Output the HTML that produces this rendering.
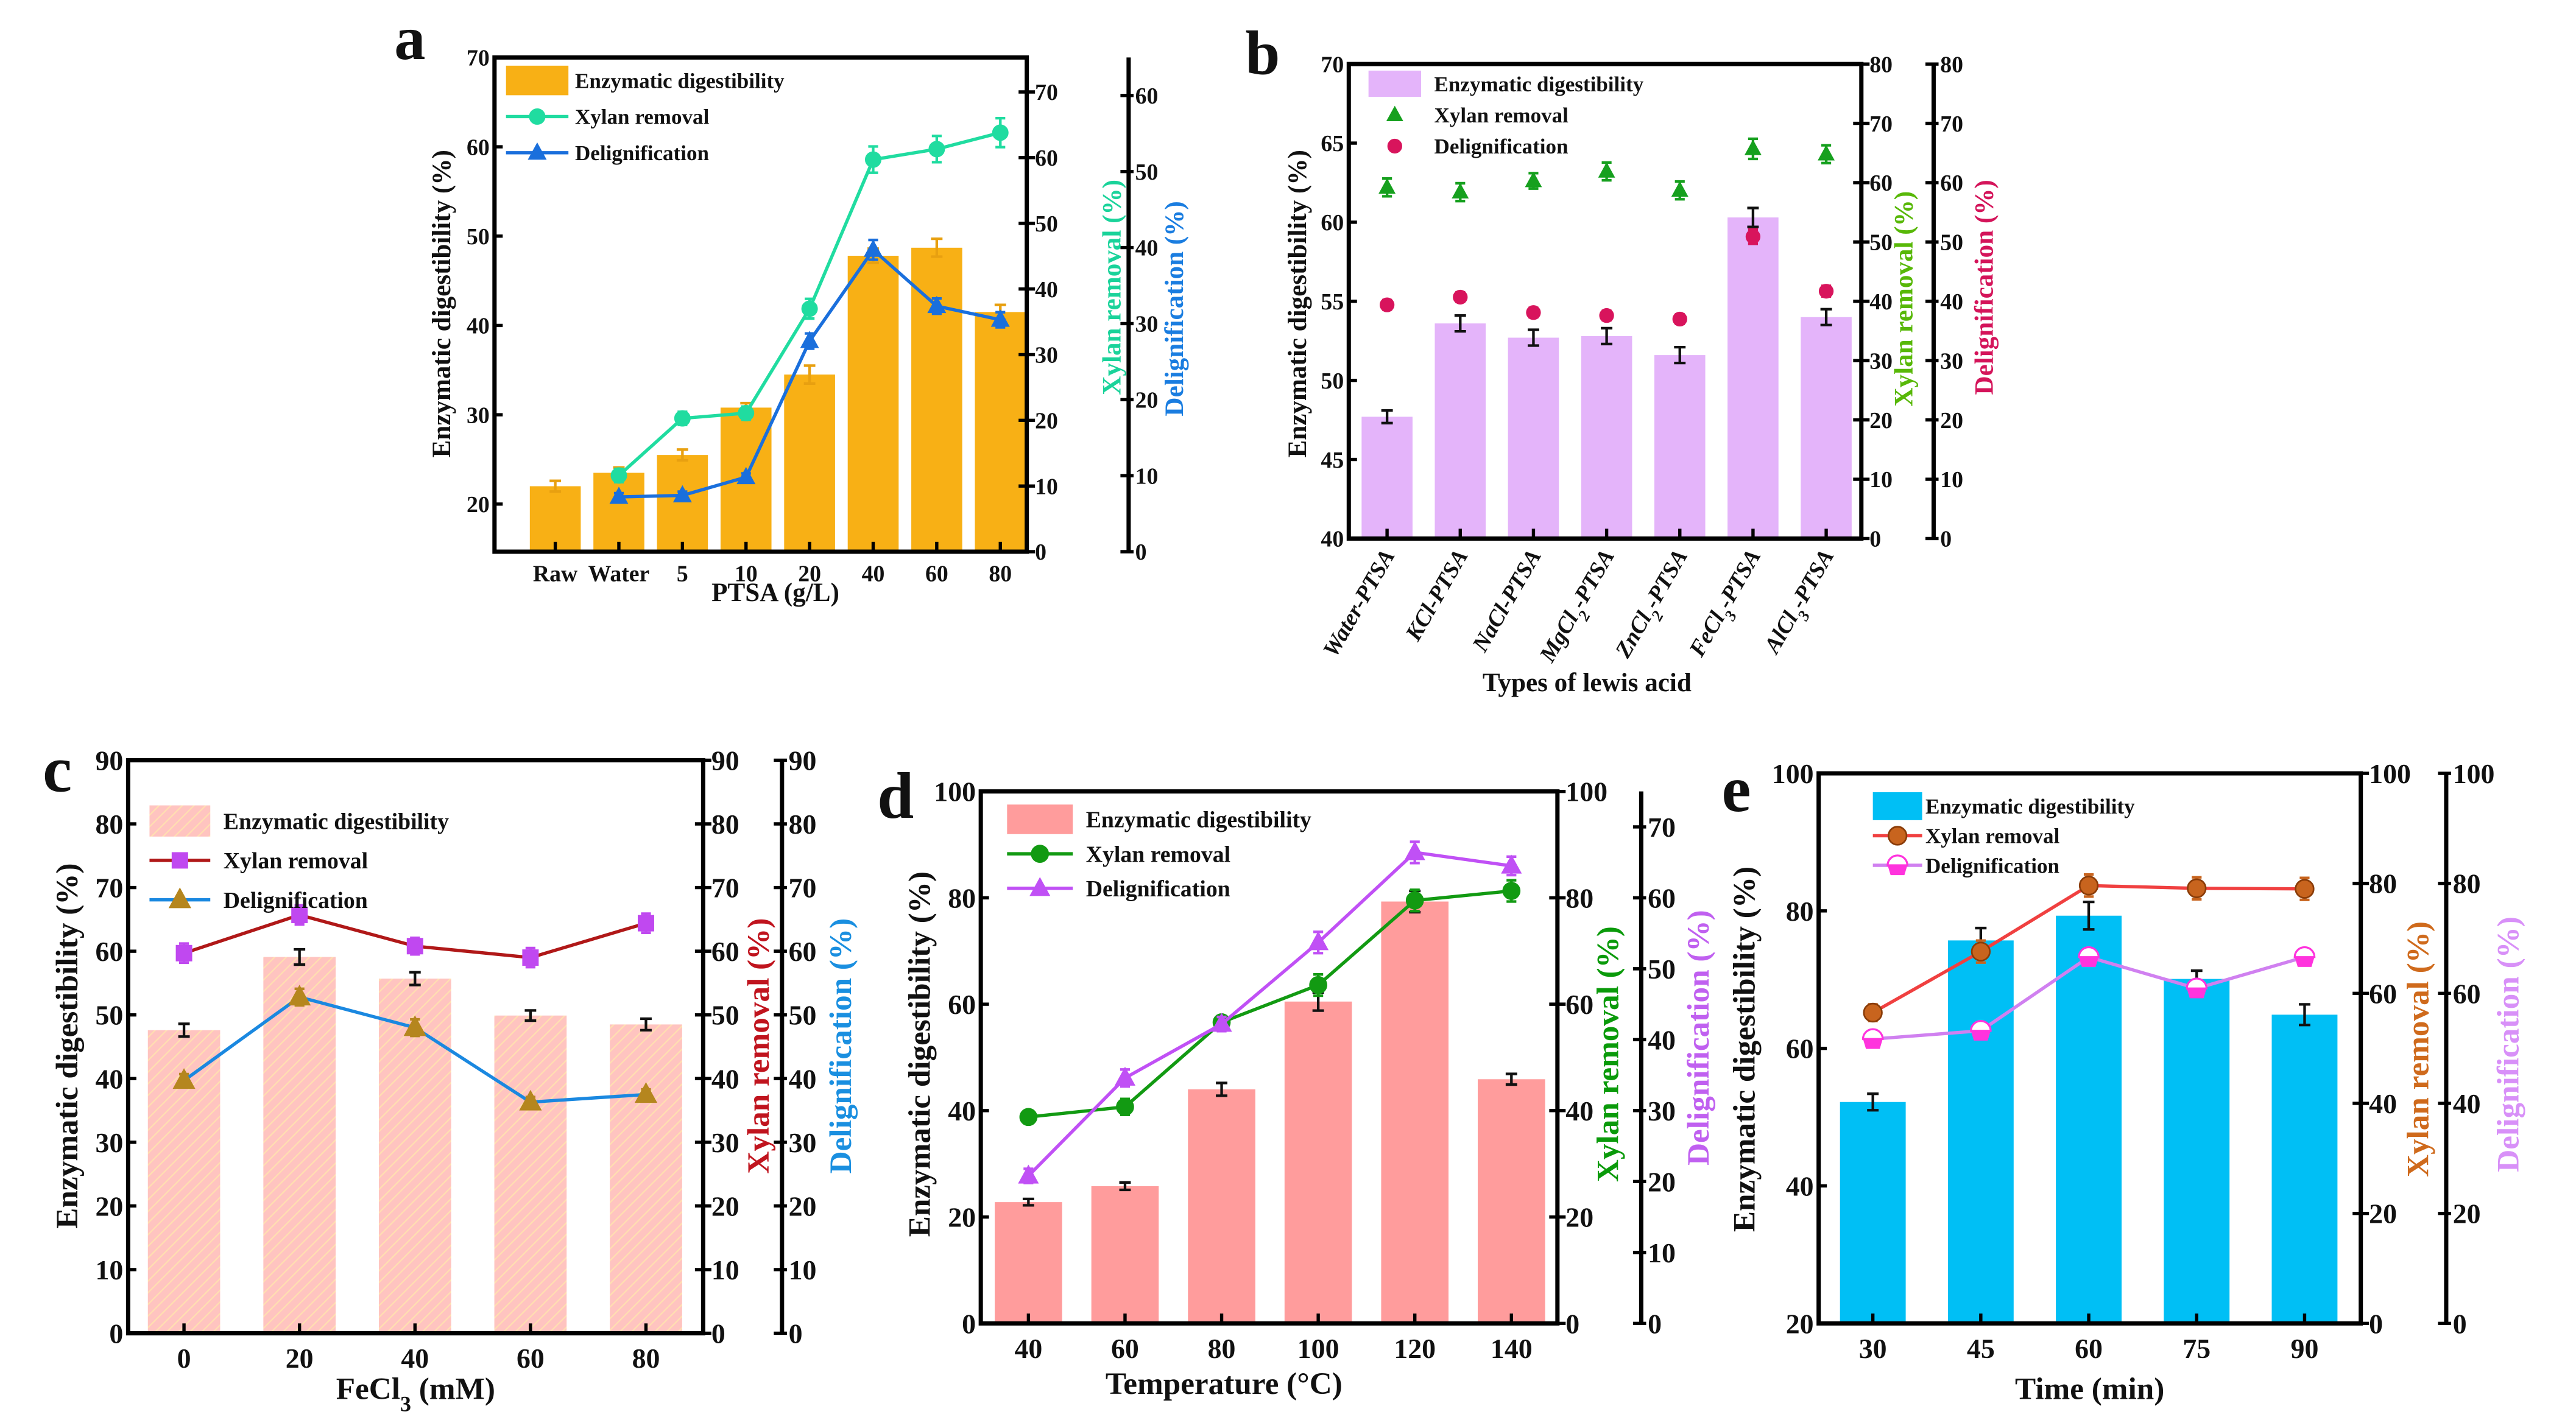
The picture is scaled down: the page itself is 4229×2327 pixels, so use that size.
<!DOCTYPE html>
<html><head><meta charset="utf-8"><style>
html,body{margin:0;padding:0;background:#fff;}
svg{display:block;}
text{font-family:"Liberation Serif",serif;font-weight:bold;fill:#111;}
</style></head><body>
<svg id="fig" width="4229" height="2327" viewBox="0 0 1568 863" preserveAspectRatio="none" xmlns="http://www.w3.org/2000/svg">
<defs>
<pattern id="hatch" patternUnits="userSpaceOnUse" width="5" height="5" patternTransform="rotate(45)">
<rect width="5" height="5" fill="#ffc4c0"/>
<line x1="0" y1="0" x2="0" y2="5" stroke="#ffe0b0" stroke-width="1.6"/>
</pattern>
</defs>
</svg>
<script>
// ---------- Panel a data ----------
const aCategories = ["Raw","Water","5","10","20","40","60","80"];
const aEnzymatic = [22.0,23.5,25.5,30.8,34.5,47.8,48.7,41.5];
const aEnzErr = [0.6,0.6,0.6,0.5,1.0,0.8,1.0,0.8];
const aXylan = [null,11.6,20.3,21.1,37.0,59.7,61.3,63.8];
const aXylErr = [null,1.0,1.0,1.0,1.5,2.0,2.0,2.2];
const aDelig = [null,7.2,7.4,9.8,27.7,39.7,32.3,30.5];
const aDelErr = [null,0.5,0.5,0.5,1.0,1.3,1.0,1.0];
const aLeftTicks = [20,30,40,50,60,70];
const aXylTicks = [0,10,20,30,40,50,60,70];
const aDelTicks = [0,10,20,30,40,50,60];
// ---------- Panel b data ----------
const bCategories = ["Water-PTSA","KCl-PTSA","NaCl-PTSA","MgCl|2|-PTSA","ZnCl|2|-PTSA","FeCl|3|-PTSA","AlCl|3|-PTSA"];
const bEnzymatic = [47.7,53.6,52.7,52.8,51.6,60.3,54.0];
const bEnzErr = [0.4,0.5,0.5,0.5,0.5,0.6,0.5];
const bXylan = [59.2,58.4,60.3,61.9,58.7,65.7,64.8];
const bXylErr = [1.5,1.5,1.3,1.5,1.5,1.7,1.5];
const bDelig = [39.4,40.7,38.1,37.6,37.0,50.9,41.7];
const bDelErr = [0.8,0.8,0.8,0.8,0.8,1.2,0.9];
const bLeftTicks = [40,45,50,55,60,65,70];
const bRightTicks = [0,10,20,30,40,50,60,70,80];
// ---------- Panel c data ----------
const cCategories = ["0","20","40","60","80"];
const cEnzymatic = [47.6,59.1,55.7,49.9,48.5];
const cEnzErr = [1.0,1.2,1.0,0.8,0.9];
const cXylan = [59.7,65.7,60.8,59.0,64.4];
const cXylErr = [1.5,1.5,1.3,1.5,1.5];
const cDelig = [39.7,52.8,48.0,36.3,37.5];
const cDelErr = [1.0,1.3,1.3,0.8,0.8];
const cTicks = [0,10,20,30,40,50,60,70,80,90];
// ---------- Panel d data ----------
const dCategories = ["40","60","80","100","120","140"];
const dEnzymatic = [22.8,25.8,44.0,60.5,79.3,45.9];
const dEnzErr = [0.6,0.7,1.2,1.7,2.0,1.0];
const dXylan = [38.8,40.7,56.6,63.6,79.5,81.3];
const dXylErr = [1.0,1.5,1.0,2.0,2.0,2.0];
const dDelig = [20.8,34.6,42.2,53.7,66.4,64.5];
const dDelErr = [1.0,1.2,1.0,1.5,1.5,1.3];
const dLeftTicks = [0,20,40,60,80,100];
const dDelTicks = [0,10,20,30,40,50,60,70];
// ---------- Panel e data ----------
const eCategories = ["30","45","60","75","90"];
const eEnzymatic = [52.2,75.7,79.3,70.1,64.9];
const eEnzErr = [1.2,1.8,2.0,1.2,1.5];
const eXylan = [56.5,67.6,79.6,79.1,79.0];
const eXylErr = [1.5,2.0,2.0,2.0,2.0];
const eDelig = [51.7,53.2,66.6,60.9,66.6];
const eDelErr = [1.0,1.0,1.2,1.2,1.2];
const eLeftTicks = [20,40,60,80,100];
const eRightTicks = [0,20,40,60,80,100];

const NS = "http://www.w3.org/2000/svg";
const svg = document.getElementById('fig');
function mk(tag, attrs, parent){
  const el = document.createElementNS(NS, tag);
  for (const k in attrs) el.setAttribute(k, attrs[k]);
  (parent||svg).appendChild(el);
  return el;
}
function nm(el, name){
  
  
  return el;
}
function lin(d0,d1,r0,r1){ return v => r0 + (v-d0)*(r1-r0)/(d1-d0); }

function txt(g, x, y, s, opts){
  opts = opts||{};
  const t = mk('text', {x:x, y:y, 'font-size':opts.size||14, 'text-anchor':opts.anchor||'start', fill:opts.fill||'#111'}, g);
  if (opts.transform) t.setAttribute('transform', opts.transform);
  if (opts.italic) t.setAttribute('font-style','italic');
  const parts = s.split('|');
  parts.forEach((p,i)=>{
    if(!p) return;
    const ts = mk('tspan', {}, t);
    if (i%2===1){ ts.setAttribute('baseline-shift','sub'); ts.setAttribute('font-size', (opts.size||14)*0.7); }
    ts.textContent = p;
  });
  t.style.fill = opts.fill||'#111';
  return t;
}

function marker(g, type, x, y, color, s){
  s = s||5;
  let el;
  if (type==='circle'){ el = mk('circle',{cx:x,cy:y,r:s,fill:color,stroke:color,'stroke-width':1},g); }
  else if (type==='tri'){ el = mk('polygon',{points:`${x},${y-s*1.25} ${x-s*1.15},${y+s*0.85} ${x+s*1.15},${y+s*0.85}`,fill:color},g); }
  else if (type==='square'){ el = mk('rect',{x:x-s,y:y-s,width:2*s,height:2*s,fill:color},g); }
  else if (type==='ball'){ el = mk('circle',{cx:x,cy:y,r:s,fill:color,stroke:'#8a3c08','stroke-width':1},g); }
  else if (type==='cup'){
    el = mk('g',{},g);
    mk('path',{d:`M${x-s},${y} L${x+s},${y} L${x+s*0.7},${y+s} L${x-s*0.7},${y+s} Z`,fill:color},el);
    mk('path',{d:`M${x-s},${y} A${s},${s} 0 0 1 ${x+s},${y} Z`,fill:'#fff',stroke:color,'stroke-width':1.2},el);
  }
  else if (type==='ring'){ el = mk('circle',{cx:x,cy:y,r:s,fill:color,stroke:'#fff','stroke-width':0.8},g); }
  return el;
}

function errbar(g, x, y0, y1, color, w){
  w = w||3.5;
  const e = mk('g',{stroke:color,'stroke-width':1.6},g);
  mk('line',{x1:x,y1:y0,x2:x,y2:y1},e);
  mk('line',{x1:x-w,y1:y0,x2:x+w,y2:y0},e);
  mk('line',{x1:x-w,y1:y1,x2:x+w,y2:y1},e);
  return e;
}

// generic panel
function panel(cfg){
  const g = mk('g',{});
  nm(g, 'panel-'+cfg.id);
  const B = cfg.box;
  const yL = lin(cfg.yL[0],cfg.yL[1],B.b,B.t);
  const yR1 = lin(cfg.yR1[0],cfg.yR1[1],B.b,B.t);
  const yR2 = lin(cfg.yR2[0],cfg.yR2[1],B.b,B.t);
  const xs = i => cfg.x0 + i*cfg.step;
  const fs = cfg.fs, ts = cfg.ts;

  // panel label
  const pl = txt(g, cfg.label[0], cfg.label[1], cfg.id, {size:cfg.labelSize||40});
  nm(pl, 'panel-label-'+cfg.id);

  // bars
  const bars = mk('g',{},g);
  nm(bars, 'enzymatic-bars');
  cfg.bars.forEach((v,i)=>{
    const x = xs(i);
    const r = mk('rect',{x:x-cfg.barW/2,y:yL(v),width:cfg.barW,height:B.b-yL(v),fill:cfg.barFill},bars);
    nm(r, 'bar-'+cfg.cats[i].replace(/\|/g,''));
    const e = cfg.barErr[i];
    const eb = errbar(bars, x, yL(v+e), yL(v-e), cfg.barErrColor||'#111');
    nm(eb, 'bar-error-'+i);
  });

  // series
  cfg.series.forEach(s=>{
    const sg = mk('g',{},g);
    nm(sg, s.name+'-series');
    const sc = s.axis===1 ? yR1 : yR2;
    const pts = [];
    s.vals.forEach((v,i)=>{ if(v!==null) pts.push([xs(i), sc(v), i, v]); });
    if (s.line){
      const pl = mk('polyline',{points:pts.map(p=>p[0]+','+p[1]).join(' '),fill:'none',stroke:s.line,'stroke-width':2},sg);
      nm(pl, s.name+'-line');
    }
    pts.forEach(p=>{
      const e = s.err[p[2]];
      const eb = errbar(sg, p[0], sc(p[3]+e), sc(p[3]-e), s.color, 3);
      nm(eb, s.name+'-error-'+p[2]);
    });
    pts.forEach(p=>{
      const m = marker(sg, s.marker, p[0], p[1], s.color, s.size||5);
      nm(m, s.name+'-point-'+p[2]);
    });
  });

  // frame
  const fr = mk('rect',{x:B.l,y:B.t,width:B.r-B.l,height:B.b-B.t,fill:'none',stroke:'#000','stroke-width':2.6},g);
  nm(fr, 'plot-frame');
  const ax2 = mk('line',{x1:cfg.ax2x,y1:B.t,x2:cfg.ax2x,y2:B.b,stroke:'#000','stroke-width':2.6},g);
  nm(ax2, 'second-right-axis');

  // left ticks
  const lt = mk('g',{},g);
  nm(lt, 'left-axis-ticks');
  cfg.leftTicks.forEach(v=>{
    const y = yL(v);
    mk('line',{x1:B.l,y1:y,x2:B.l+5,y2:y,stroke:'#000','stroke-width':2},lt);
    const t = txt(lt, B.l-3, y+fs*0.35, String(v), {size:fs, anchor:'end'});
    nm(t, 'left-tick-label');
  });
  // right1 ticks
  const r1 = mk('g',{},g);
  nm(r1, 'xylan-axis-ticks');
  cfg.r1Ticks.forEach(v=>{
    const y = yR1(v);
    mk('line',{x1:B.r-5,y1:y,x2:B.r+5,y2:y,stroke:'#000','stroke-width':2},r1);
    const t = txt(r1, B.r+5, y+fs*0.35, String(v), {size:fs});
    nm(t, 'xylan-tick-label');
  });
  const r2 = mk('g',{},g);
  nm(r2, 'delignification-axis-ticks');
  cfg.r2Ticks.forEach(v=>{
    const y = yR2(v);
    mk('line',{x1:cfg.ax2x-5,y1:y,x2:cfg.ax2x+3,y2:y,stroke:'#000','stroke-width':2},r2);
    const t = txt(r2, cfg.ax2x+4, y+fs*0.35, String(v), {size:fs});
    nm(t, 'delignification-tick-label');
  });
  // x ticks
  const xt = mk('g',{},g);
  nm(xt, 'x-axis-ticks');
  cfg.cats.forEach((c,i)=>{
    const x = xs(i);
    mk('line',{x1:x,y1:B.b,x2:x,y2:B.b-6,stroke:'#000','stroke-width':2},xt);
    let t;
    if (cfg.rotate){
      t = txt(xt, x+5, B.b+10, c, {size:fs, anchor:'end', italic:true, transform:`rotate(-60 ${x+5} ${B.b+10})`});
    } else {
      t = txt(xt, x, B.b+fs+4, c, {size:fs, anchor:'middle'});
    }
    nm(t, 'x-tick-label');
  });
  // titles
  const xtl = txt(g, cfg.xTitle[1], cfg.xTitle[2], cfg.xTitle[0], {size:ts, anchor:'middle'});
  nm(xtl, 'x-axis-title');
  const T = cfg.titles;
  const lt1 = txt(g, 0,0,'Enzymatic digestibility (%)',{size:ts,anchor:'middle',transform:`translate(${T.left[0]},${T.left[1]}) rotate(-90)`});
  nm(lt1, 'left-axis-title');
  const lt2 = txt(g, 0,0,'Xylan removal (%)',{size:ts,anchor:'middle',fill:T.xylColor,transform:`translate(${T.xyl[0]},${T.xyl[1]}) rotate(-90)`});
  nm(lt2, 'xylan-axis-title');
  const lt3 = txt(g, 0,0,'Delignification (%)',{size:ts,anchor:'middle',fill:T.delColor,transform:`translate(${T.del[0]},${T.del[1]}) rotate(-90)`});
  nm(lt3, 'delignification-axis-title');

  // legend
  const L = cfg.legend;
  const lg = mk('g',{},g);
  nm(lg, 'legend');
  const sw = mk('rect',{x:L.x,y:L.y[0]-L.sh/2,width:L.sw,height:L.sh,fill:cfg.barFill},lg);
  nm(sw, 'legend-swatch-enzymatic');
  const l1 = txt(lg, L.tx, L.y[0]+L.fs*0.35, 'Enzymatic digestibility', {size:L.fs});
  nm(l1, 'legend-entry-enzymatic');
  cfg.series.forEach((s,k)=>{
    const y = L.y[k+1];
    if (s.line){ const ln = mk('line',{x1:L.x,y1:y,x2:L.x+L.sw,y2:y,stroke:s.line,'stroke-width':2},lg); nm(ln,'legend-line-'+s.name); }
    const m = marker(lg, s.marker, L.x+L.sw/2, y, s.color, s.size||5);
    nm(m, 'legend-marker-'+s.name);
    const t = txt(lg, L.tx, y+L.fs*0.35, s.label, {size:L.fs});
    nm(t, 'legend-entry-'+s.name);
  });
}

panel({id:'a', label:[240,36], labelSize:38, box:{l:301,r:625,t:35,b:336},
  yL:[14.67,70], yR1:[0,75.25], yR2:[0,65], ax2x:687,
  x0:338, step:38.7, barW:31, cats:aCategories, bars:aEnzymatic, barErr:aEnzErr, barFill:'#f8b015', barErrColor:'#e8a010',
  series:[
    {name:'xylan', label:'Xylan removal', vals:aXylan, err:aXylErr, axis:1, color:'#20dca0', line:'#20dca0', marker:'circle', size:4.5},
    {name:'delignification', label:'Delignification', vals:aDelig, err:aDelErr, axis:2, color:'#1a6fdc', line:'#1a6fdc', marker:'tri', size:5}
  ],
  leftTicks:aLeftTicks, r1Ticks:aXylTicks, r2Ticks:aDelTicks, fs:14, ts:16,
  xTitle:['PTSA (g/L)',472,366],
  titles:{left:[274,185], xyl:[682,175], xylColor:'#1ad39a', del:[720,188], delColor:'#1a7de0'},
  legend:{x:308, sw:38, sh:18, tx:350, fs:13, y:[49,71,93]}
});

panel({id:'b', label:[758,45], labelSize:38, box:{l:821,r:1133,t:39,b:328},
  yL:[40,70], yR1:[0,80], yR2:[0,80], ax2x:1177,
  x0:844.3, step:44.55, barW:31, cats:bCategories, bars:bEnzymatic, barErr:bEnzErr, barFill:'#e4b4fa', barErrColor:'#111',
  series:[
    {name:'xylan', label:'Xylan removal', vals:bXylan, err:bXylErr, axis:1, color:'#16a01e', line:null, marker:'tri', size:4.5},
    {name:'delignification', label:'Delignification', vals:bDelig, err:bDelErr, axis:2, color:'#d8145c', line:null, marker:'circle', size:4}
  ],
  leftTicks:bLeftTicks, r1Ticks:bRightTicks, r2Ticks:bRightTicks, fs:14, ts:16, rotate:true,
  xTitle:['Types of lewis acid',966,421],
  titles:{left:[795,185], xyl:[1164,182], xylColor:'#58b808', del:[1213,175], delColor:'#d4145a'},
  legend:{x:833, sw:32, sh:16, tx:873, fs:13, y:[51,70,89]}
});

panel({id:'c', label:[26,482], labelSize:40, box:{l:78,r:428,t:463,b:812},
  yL:[0,90], yR1:[0,90], yR2:[0,90], ax2x:476,
  x0:112, step:70.3, barW:44, cats:cCategories, bars:cEnzymatic, barErr:cEnzErr, barFill:'url(#hatch)', barErrColor:'#111',
  series:[
    {name:'xylan', label:'Xylan removal', vals:cXylan, err:cXylErr, axis:1, color:'#c048f0', line:'#b01818', marker:'square', size:5},
    {name:'delignification', label:'Delignification', vals:cDelig, err:cDelErr, axis:2, color:'#b5861e', line:'#1a88e0', marker:'tri', size:6}
  ],
  leftTicks:cTicks, r1Ticks:cTicks, r2Ticks:cTicks, fs:17, ts:19,
  xTitle:['FeCl|3| (mM)',253,852],
  titles:{left:[47,637], xyl:[468,637], xylColor:'#c0141e', del:[518,637], delColor:'#1a8fe0'},
  legend:{x:91, sw:37, sh:19, tx:136, fs:14, y:[500,524,548]}
});

panel({id:'d', label:[534,498], labelSize:40, box:{l:597,r:948,t:482,b:806},
  yL:[0,100], yR1:[0,100], yR2:[0,75], ax2x:999,
  x0:626, step:58.8, barW:41, cats:dCategories, bars:dEnzymatic, barErr:dEnzErr, barFill:'#ff9c9c', barErrColor:'#111',
  series:[
    {name:'xylan', label:'Xylan removal', vals:dXylan, err:dXylErr, axis:1, color:'#129a12', line:'#129a12', marker:'circle', size:5},
    {name:'delignification', label:'Delignification', vals:dDelig, err:dDelErr, axis:2, color:'#c050f5', line:'#c050f5', marker:'tri', size:5.5}
  ],
  leftTicks:dLeftTicks, r1Ticks:dLeftTicks, r2Ticks:dDelTicks, fs:17, ts:19,
  xTitle:['Temperature (°C)',745,849],
  titles:{left:[566,642], xyl:[985,642], xylColor:'#0a9a0a', del:[1040,632], delColor:'#c060f0'},
  legend:{x:613, sw:40, sh:18, tx:661, fs:14, y:[499,520,541]}
});

panel({id:'e', label:[1048,494], labelSize:40, box:{l:1107,r:1437,t:471,b:806},
  yL:[20,100], yR1:[0,100], yR2:[0,100], ax2x:1489,
  x0:1140, step:65.7, barW:40, cats:eCategories, bars:eEnzymatic, barErr:eEnzErr, barFill:'#00bff5', barErrColor:'#111',
  series:[
    {name:'xylan', label:'Xylan removal', vals:eXylan, err:eXylErr, axis:1, color:'#c8641e', line:'#f04040', marker:'ball', size:5.5},
    {name:'delignification', label:'Delignification', vals:eDelig, err:eDelErr, axis:2, color:'#ff33dd', line:'#d080f0', marker:'cup', size:6}
  ],
  leftTicks:eLeftTicks, r1Ticks:eRightTicks, r2Ticks:eRightTicks, fs:17, ts:19,
  xTitle:['Time (min)',1272,852],
  titles:{left:[1068,639], xyl:[1478,639], xylColor:'#cf6a1c', del:[1533,636], delColor:'#d890f8'},
  legend:{x:1140, sw:30, sh:17, tx:1172, fs:13, y:[491,509,527]}
});
</script>
</body></html>
